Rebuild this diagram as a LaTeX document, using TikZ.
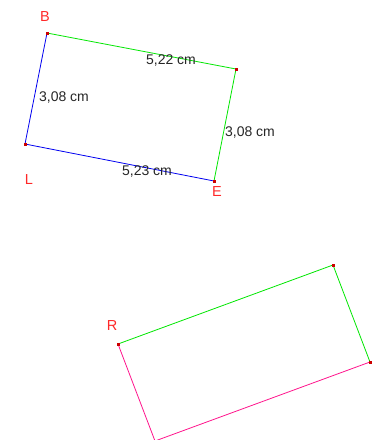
\documentclass[tikz,border=0pt]{standalone}
\usepackage{fontspec}
\setmainfont{Liberation Sans}
\definecolor{gg}{RGB}{0,230,0}
\definecolor{bb}{RGB}{0,0,240}
\definecolor{pp}{RGB}{255,20,140}
\definecolor{rr}{RGB}{255,40,40}
\begin{document}
\begin{tikzpicture}[x=1pt,y=-1pt,
  seg/.style={line width=0.8pt},
  pt/.style={fill=red!80!black,draw=none,inner sep=0pt,minimum size=3pt,rectangle},
  ptlabel/.style={text=rr,font=\fontsize{14.5}{14.5}\selectfont,inner sep=0pt},
  meas/.style={text=black!85,font=\fontsize{14}{14}\selectfont,inner sep=0pt}]
\useasboundingbox (0,0) rectangle (375,440);
\begin{scope}
\clip (0,0) rectangle (375,440);
% upper quadrilateral
\coordinate (B) at (47,33);
\coordinate (C) at (236,69);
\coordinate (L) at (25,144);
\coordinate (E) at (214,181);
% lower quadrilateral
\coordinate (R) at (118,344);
\coordinate (S) at (333,265);
\coordinate (T) at (370,362);
\coordinate (U) at (155,441);
\draw[seg,gg] (B) -- (C);
\draw[seg,gg] (C) -- (E);
\draw[seg,bb] (L) -- (E);
\draw[seg,bb] (B) -- (L);
\draw[seg,gg] (R) -- (S);
\draw[seg,gg] (S) -- (T);
\draw[seg,pp] (T) -- (U);
\draw[seg,pp] (R) -- (U);
\foreach \p in {B,C,L,E,R,S,T} \node[pt] at (\p) {};
\end{scope}
\node[ptlabel] (lB) at (45,17) {B};
\node[ptlabel] (lL) at (29,180) {L};
\node[ptlabel] (lE) at (217,192) {E};
\node[ptlabel] (lR) at (112,326) {R};
\node[meas] (m1) at (171,61) {5,22 cm};
\node[meas] (m2) at (64,98) {3,08 cm};
\node[meas] (m3) at (250,133) {3,08 cm};
\node[meas] (m4) at (147,172) {5,23 cm};
\end{tikzpicture}
\end{document}
